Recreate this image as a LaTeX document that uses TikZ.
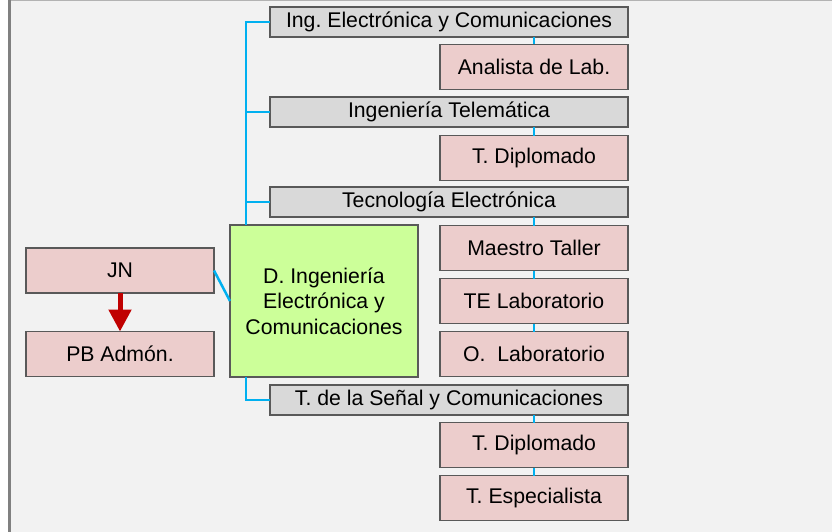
\documentclass[tikz,border=0pt]{standalone}
\usepackage{fontspec}
\setmainfont{Liberation Sans}
\usetikzlibrary{arrows.meta}
\frenchspacing
\definecolor{frameline}{RGB}{128,128,128}
\definecolor{framebg}{RGB}{242,242,242}
\definecolor{boxline}{RGB}{89,89,89}
\definecolor{areafill}{RGB}{217,217,217}
\definecolor{postfill}{RGB}{236,205,204}
\definecolor{deptfill}{RGB}{204,255,153}
\definecolor{linkblue}{RGB}{0,176,240}
\definecolor{arrowred}{RGB}{192,0,0}
\begin{document}
\begin{tikzpicture}[x=1pt,y=-1pt,
  box/.style={draw=boxline,line width=1.2pt,inner sep=0pt,outer sep=0pt,align=center,
    font=\fontsize{21.25}{25.5}\selectfont},
  area/.style={box,fill=areafill,minimum width=358pt,minimum height=30pt},
  post/.style={box,fill=postfill,minimum width=188pt,minimum height=45pt},
  dept/.style={box,fill=deptfill,minimum width=188pt,minimum height=152pt},
  link/.style={draw=linkblue,line width=2.5pt},
  sublink/.style={draw=linkblue,line width=2pt}]
\path[use as bounding box] (0,0) rectangle (832,532);
\fill[white] (0,0) rectangle (832,532);
\fill[framebg] (9,0) rectangle (832,532);
\draw[frameline!60,line width=1pt] (9,0.5) -- (832,0.5);
\draw[frameline,line width=3pt] (9.5,0) -- (9.5,532);
% areas
\node[area] (ingE) at (449,22) {Ing. Electrónica y Comunicaciones};
\node[area] (ingT) at (449,112) {Ingeniería Telemática};
\node[area] (tecE) at (449,202) {Tecnología Electrónica};
\node[area] (tsc) at (449,400) {T. de la Señal y Comunicaciones};
% posts
\node[post] (anl) at (534,67) {Analista de Lab.};
\node[post] (dipA) at (534,158) {T. Diplomado};
\node[post] (mae) at (534,248) {Maestro Taller};
\node[post] (tel) at (534,301) {TE Laboratorio};
\node[post] (olab) at (534,354) {O.~ Laboratorio};
\node[post] (dipB) at (534,445) {T. Diplomado};
\node[post] (esp) at (534,498) {T. Especialista};
\node[post] (jn) at (120,270.5) {JN};
\node[post] (pb) at (120,354) {PB Admón.};
\node[dept] (dept) at (324,301) {D. Ingeniería\\Electrónica y\\Comunicaciones};
% connectors
\draw[link] (ingE.west) -| ([xshift=16pt]dept.north west);
\draw[link] (ingT.west) -- ++(-24,0);
\draw[link] (tecE.west) -- ++(-24,0);
\draw[link] ([xshift=16pt]dept.south west) |- (tsc.west);
\draw[link] (jn.east) -- (dept.west);
\draw[sublink] (anl.north) -- (anl.north |- ingE.south);
\draw[sublink] (dipA.north) -- (dipA.north |- ingT.south);
\draw[sublink] (mae.north) -- (mae.north |- tecE.south);
\draw[sublink] (mae) -- (tel);
\draw[sublink] (tel) -- (olab);
\draw[sublink] (dipB.north) -- (dipB.north |- tsc.south);
\draw[sublink] (dipB) -- (esp);
\draw[arrowred,line width=5pt,-{Triangle[width=22pt,length=22pt]}] (jn.south) -- (pb.north);
\end{tikzpicture}
\end{document}
